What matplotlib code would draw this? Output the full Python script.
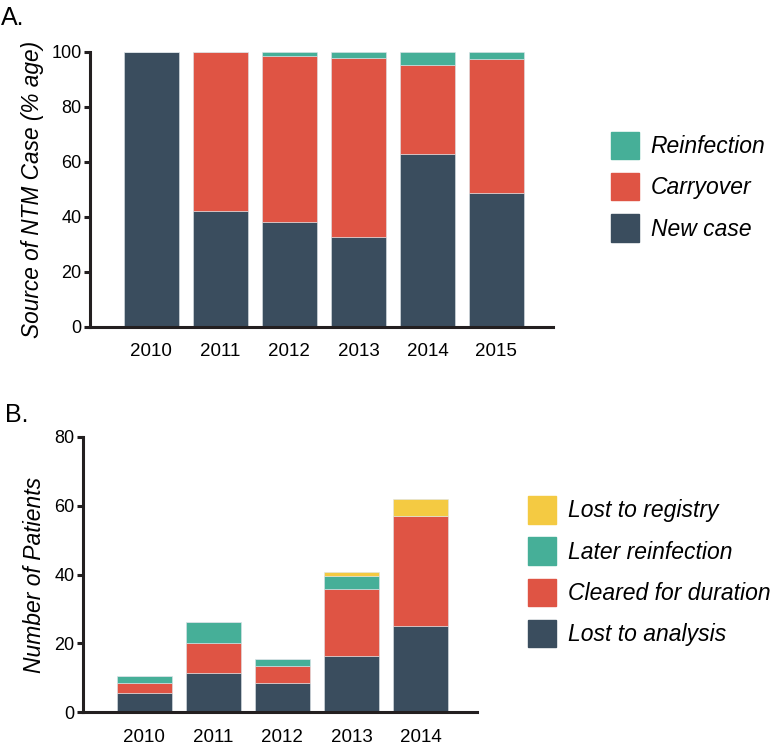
import matplotlib
matplotlib.use("Agg")
import matplotlib.pyplot as plt
from matplotlib.patches import Patch
import numpy as np

plt.rcParams["font.family"] = ["Liberation Sans", "DejaVu Sans"]

# ---- Panel A data: source of NTM case (% of cases) ----
years_a = ["2010", "2011", "2012", "2013", "2014", "2015"]
new_case = [100, 42.0, 38.2, 32.5, 62.8, 48.7]
carryover = [0, 58.0, 60.3, 65.2, 32.3, 48.8]
reinfection = [0, 0, 1.5, 2.3, 4.9, 2.5]

# ---- Panel B data: number of patients ----
years_b = ["2010", "2011", "2012", "2013", "2014"]
lost_analysis = [5.7, 11.5, 8.6, 16.3, 25.0]
cleared = [2.9, 8.7, 4.8, 19.4, 32.0]
later_reinf = [2.0, 5.9, 2.1, 3.9, 0]
lost_registry = [0, 0, 0, 1.0, 4.9]

DARK = "#3A4D5E"
RED = "#DF5444"
TEAL = "#46AF98"
YELLOW = "#F4CA42"
SPINE = "#231F20"

W, H = 773, 745
fig = plt.figure(figsize=(W / 100, H / 100), dpi=100)


def style_axes(ax):
    for s in ("top", "right"):
        ax.spines[s].set_visible(False)
    for s in ("left", "bottom"):
        ax.spines[s].set_linewidth(2.2)
        ax.spines[s].set_color(SPINE)
    ax.tick_params(axis="y", length=4, width=2.2, color=SPINE, labelsize=13, pad=2)
    ax.tick_params(axis="x", length=0, labelsize=13.5, pad=12)


def stack(ax, x, layers, colors):
    bottom = np.zeros(len(x))
    for vals, c in zip(layers, colors):
        ax.bar(x, vals, bottom=bottom, width=0.8, color=c,
               edgecolor="#dde4e8", linewidth=0.4)
        bottom += np.array(vals)


LEG = dict(loc="upper left", frameon=False,
           prop={"size": 16.5, "style": "italic"},
           handlelength=1.21, handleheight=1.47, handletextpad=0.52,
           labelspacing=0.6, borderaxespad=0, borderpad=0)

# ---------------- Panel A ----------------
axA = fig.add_axes([90 / W, 1 - 326.7 / H, 463 / W, 275 / H])
xa = np.arange(len(years_a))
stack(axA, xa, [new_case, carryover, reinfection], [DARK, RED, TEAL])
axA.set_xlim(-0.89, 5.82)
axA.set_ylim(0, 100)
axA.set_yticks([0, 20, 40, 60, 80, 100])
axA.set_xticks(xa)
axA.set_xticklabels(years_a)
axA.set_ylabel("Source of NTM Case (% age)", fontsize=16.3, style="italic", labelpad=5)
style_axes(axA)

hA = [Patch(color=TEAL), Patch(color=RED), Patch(color=DARK)]
fig.legend(hA, ["Reinfection", "Carryover", "New case"],
           bbox_to_anchor=(611 / W, 1 - 131.7 / H), **LEG)

fig.text(1 / W, 1 - 25 / H, "A.", fontsize=18)

# ---------------- Panel B ----------------
axB = fig.add_axes([83 / W, 1 - 712.3 / H, 394 / W, 275.6 / H])
xb = np.arange(len(years_b))
stack(axB, xb, [lost_analysis, cleared, later_reinf, lost_registry],
      [DARK, RED, TEAL, YELLOW])
axB.set_xlim(-0.89, 4.82)
axB.set_ylim(0, 80)
axB.set_yticks([0, 20, 40, 60, 80])
axB.set_xticks(xb)
axB.set_xticklabels(years_b)
axB.set_ylabel("Number of Patients", fontsize=16.5, style="italic", labelpad=6)
style_axes(axB)

hB = [Patch(color=YELLOW), Patch(color=TEAL), Patch(color=RED), Patch(color=DARK)]
fig.legend(hB, ["Lost to registry", "Later reinfection",
                "Cleared for duration", "Lost to analysis"],
           bbox_to_anchor=(528 / W, 1 - 496 / H), **LEG)

fig.text(5 / W, 1 - 422 / H, "B.", fontsize=18)

fig.savefig("out.png", dpi=100)
